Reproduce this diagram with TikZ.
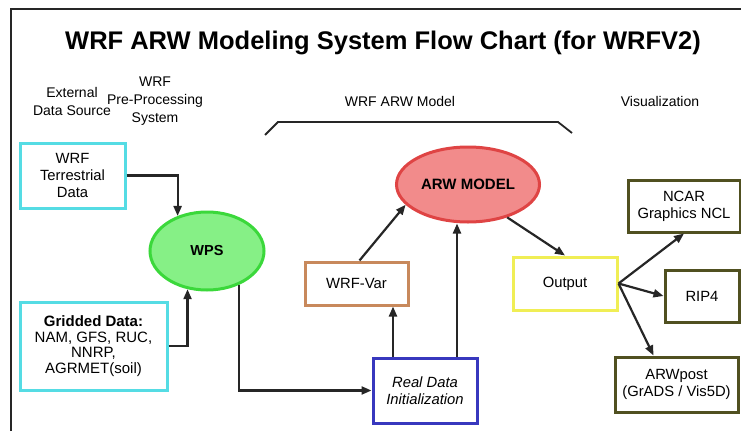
\documentclass[tikz,border=0pt]{standalone}
\usepackage{fontspec}
\setmainfont{Liberation Sans}
\usetikzlibrary{arrows.meta,positioning,shapes.geometric}
\definecolor{srcCyan}{HTML}{55DCE4}
\definecolor{wpsFill}{HTML}{86F086}
\definecolor{wpsLine}{HTML}{3BD83B}
\definecolor{arwFill}{HTML}{F28B8B}
\definecolor{arwLine}{HTML}{DF4444}
\definecolor{varBrown}{HTML}{C8895C}
\definecolor{realBlue}{HTML}{3838BE}
\definecolor{outYellow}{HTML}{F0EE55}
\definecolor{visOlive}{HTML}{505020}

\begin{document}
\begin{tikzpicture}[
  x=1pt, y=-1pt,
  box/.style={draw, rectangle, line width=3pt, fill=white, align=center, inner sep=0pt,
              font=\fontsize{14.8}{16.8}\selectfont},
  blob/.style={draw, ellipse, line width=3pt, inner sep=0pt, font=\fontsize{14.5}{16}\selectfont\bfseries},
  head/.style={align=center, font=\fontsize{14}{18}\selectfont},
  flow/.style={-{Triangle[length=10pt,width=8pt]}, line width=2.2pt, draw=black!85},
]
  \useasboundingbox (0,0) rectangle (741,431);

  % Frame and title
  \draw[line width=2.5pt, black!85] (11,431) -- (11,9) -- (741,9);
  \node[font=\fontsize{25.5}{28}\selectfont\bfseries] (title) at (383,43) {WRF ARW Modeling System Flow Chart (for WRFV2)};

  % Column headings
  \node[head] (ext) at (72,101) {External\\Data Source};
  \node[head] (pre) at (155,101) {WRF\\Pre-Processing\\System};
  \node[head] (model) at (400,101) {WRF ARW Model};
  \node[head] (vis) at (660,101) {Visualization};
  \draw[line width=1.8pt, black!85] (265,135) -- (278,122) -- (558,122) -- (572,133);

  % External data
  \node[box, draw=srcCyan, minimum width=105pt, minimum height=65pt] (terr) at (72.5,175.5) {WRF\\Terrestrial\\Data};
  \node[box, draw=srcCyan, minimum width=147pt, minimum height=88pt,
        font=\fontsize{15}{15.5}\selectfont] (grid) at (93.5,346)
        {\textbf{Gridded Data:}\\NAM, GFS, RUC,\\NNRP,\\AGRMET(soil)};

  % WPS
  \node[blob, draw=wpsLine, fill=wpsFill, minimum width=114pt, minimum height=78pt] (wps) at (207,251) {WPS};

  % ARW model
  \node[blob, draw=arwLine, fill=arwFill, minimum width=143pt, minimum height=75pt,
        font=\fontsize{15}{17}\selectfont\bfseries] (arw) at (468,184.5) {ARW MODEL};
  \node[box, draw=varBrown, minimum width=103pt, minimum height=43pt] (wrfvar) at (356.5,283.5) {WRF-Var};
  \node[box, draw=realBlue, minimum width=104pt, minimum height=65pt, font=\fontsize{14.8}{17.5}\selectfont\itshape] (real) at (425,390.5) {Real Data\\Initialization};
  \node[box, draw=outYellow, minimum width=104pt, minimum height=53pt] (output) at (565,283.5) {Output};

  % Visualization
  \node[box, draw=visOlive, minimum width=112pt, minimum height=52pt] (ncar) at (684,206) {NCAR\\Graphics NCL};
  \node[box, draw=visOlive, minimum width=74pt, minimum height=52pt] (rip) at (702,296) {RIP4};
  \node[box, draw=visOlive, minimum width=123pt, minimum height=55pt] (arwpost) at (676.5,384.5) {ARWpost\\(GrADS / Vis5D)};

  % Arrows
  \draw[flow] (terr.east) -| (wps.130);
  \draw[flow] (grid.east) -| (wps.243);
  \draw[flow] (wps.313) |- (real.west);
  \draw[flow] ([xshift=-32pt]real.north) -- ([xshift=-32pt]real.north |- wrfvar.south);
  \draw[flow] ([xshift=32pt]real.north) -- ([xshift=32pt]real.north |- arw.south);
  \draw[flow] ([xshift=3pt]wrfvar.north) -- (arw.198);
  \draw[flow] (arw.320) -- (output.north);
  \draw[flow] (output.east) -- (ncar.south);
  \draw[flow] (output.east) -- (rip.west);
  \draw[flow] (output.east) -- ([xshift=-23pt]arwpost.north);

\end{tikzpicture}
\end{document}
